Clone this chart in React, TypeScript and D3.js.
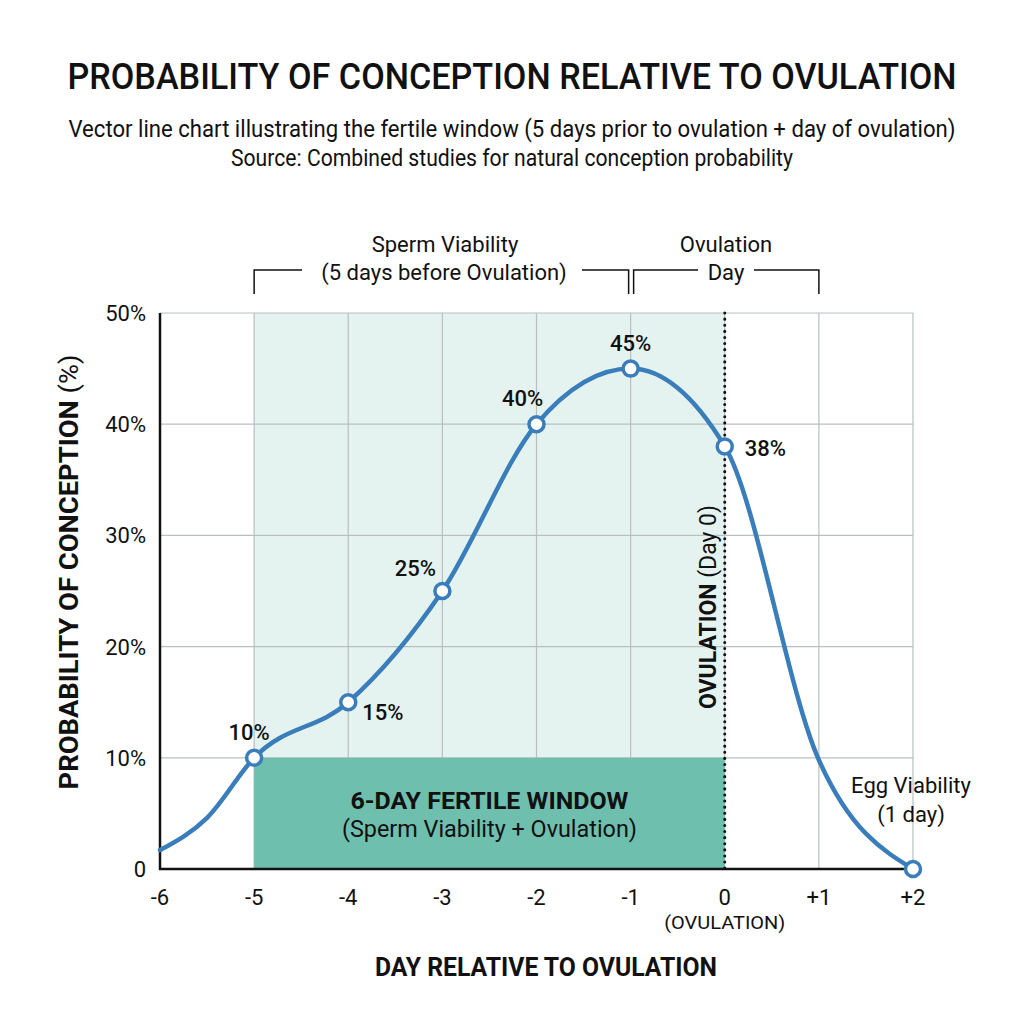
import React from "react";
import * as d3 from "d3";

const curveDays = [-6, -5.5, -5, -4, -3, -2, -1, 0, 1, 2];
const curveValues = [1.7, 4.6, 10, 15, 25, 40, 45, 38, 9.8, 0];
const markerDays = [-5, -4, -3, -2, -1, 0, 2];
const markerValues = [10, 15, 25, 40, 45, 38, 0];
const labelDays = [-5, -4, -3, -2, -1, 0];
const labelTexts = ["10%", "15%", "25%", "40%", "45%", "38%"];
const xTicks = [-6, -5, -4, -3, -2, -1, 0, 1, 2];
const xTickLabels = ["-6", "-5", "-4", "-3", "-2", "-1", "0", "+1", "+2"];
const yTicks = [0, 10, 20, 30, 40, 50];
const yTickLabels = ["0", "10%", "20%", "30%", "40%", "50%"];
const fertileStart = -5;
const fertileEnd = 0;
const fertileLevel = 10;

const W = 1024, H = 1024;
const FONT = "Roboto, 'Noto Sans', sans-serif";

export default function App() {
  const x = d3.scaleLinear().domain([-6, 2]).range([160, 913]);
  const y = d3.scaleLinear().domain([0, 50]).range([869, 313]);
  const pts = curveDays.map((d, i) => [d, curveValues[i]] as [number, number]);
  const line = d3.line<[number, number]>()
    .x(d => x(d[0])).y(d => y(d[1]))
    .curve(d3.curveMonotoneX);
  const blue = "#3a7dbb";
  const labelOffsets: Record<number, [number, number, string]> = {
    [-5]: [-5, -18, "middle"],
    [-4]: [14, 18, "start"],
    [-3]: [-27, -15, "middle"],
    [-2]: [-14, -18, "middle"],
    [-1]: [0, -18, "middle"],
    [0]: [20, 10, "start"],
  };
  const bracketY = 270, bracketBot = 294;
  const cx = (x(fertileStart) + x(fertileEnd)) / 2;
  return (
    <svg width={W} height={H} style={{ position: "absolute", left: 0, top: 0, background: "#fff" }} fontFamily={FONT}>
      <rect x={0} y={0} width={W} height={H} fill="#fff" />
      <text x={512} y={89} textAnchor="middle" fontSize={36} fontWeight={500} fill="#111" textLength={889} lengthAdjust="spacingAndGlyphs">PROBABILITY OF CONCEPTION RELATIVE TO OVULATION</text>
      <text x={512} y={137} textAnchor="middle" fontSize={23} fill="#111" textLength={887} lengthAdjust="spacingAndGlyphs">Vector line chart illustrating the fertile window (5 days prior to ovulation + day of ovulation)</text>
      <text x={512} y={166} textAnchor="middle" fontSize={23} fill="#111" textLength={562} lengthAdjust="spacingAndGlyphs">Source: Combined studies for natural conception probability</text>

      {/* light fertile shading */}
      <rect x={x(fertileStart)} y={y(50)} width={x(fertileEnd) - x(fertileStart)} height={y(0) - y(50)} fill="#e4f3ef" />

      {/* grid */}
      {yTicks.filter(t => t > 0).map(t => (
        <line key={"gy" + t} x1={x(-6)} x2={x(2)} y1={y(t)} y2={y(t)} stroke="#b9bfbf" strokeWidth={1.2} />
      ))}
      {xTicks.filter(t => t > -6).map(t => (
        <line key={"gx" + t} x1={x(t)} x2={x(t)} y1={y(50)} y2={y(0)} stroke="#b9bfbf" strokeWidth={1.2} />
      ))}

      {/* dark fertile window */}
      <rect x={x(fertileStart)} y={y(fertileLevel)} width={x(fertileEnd) - x(fertileStart)} height={y(0) - y(fertileLevel)} fill="#6ebfae" />
      <text x={cx} y={809} textAnchor="middle" fontSize={24} fontWeight={700} fill="#111" textLength={278} lengthAdjust="spacingAndGlyphs">6-DAY FERTILE WINDOW</text>
      <text x={cx} y={837} textAnchor="middle" fontSize={23} fill="#111" textLength={295} lengthAdjust="spacingAndGlyphs">(Sperm Viability + Ovulation)</text>

      {/* ovulation dotted line */}
      <line x1={x(0)} x2={x(0)} y1={y(50)} y2={y(0)} stroke="#111" strokeWidth={3} strokeDasharray="0.1 6" strokeLinecap="round" />
      <text transform={`translate(${x(0) - 9},${607}) rotate(-90)`} textAnchor="middle" fontSize={23} fill="#111">
        <tspan fontWeight={700}>OVULATION</tspan><tspan> (Day 0)</tspan>
      </text>

      {/* axes */}
      <line x1={x(-6)} x2={x(-6)} y1={y(50)} y2={y(0) + 1} stroke="#111" strokeWidth={2.5} />
      <line x1={x(-6) - 1} x2={x(2)} y1={y(0)} y2={y(0)} stroke="#111" strokeWidth={2.5} />

      {/* curve */}
      <path d={line(pts) || ""} fill="none" stroke={blue} strokeWidth={4.5} strokeLinecap="round" />
      {markerDays.map((d, i) => (
        <circle key={"m" + d} cx={x(d)} cy={y(markerValues[i])} r={7.5} fill="#fff" stroke={blue} strokeWidth={3.5} />
      ))}
      {labelDays.map((d, i) => {
        const v = markerValues[markerDays.indexOf(d)];
        const o = labelOffsets[d];
        return (
          <text key={"l" + d} x={x(d) + o[0]} y={y(v) + o[1]} textAnchor={o[2] as any} fontSize={22} fontWeight={500} fill="#111">{labelTexts[i]}</text>
        );
      })}

      {/* egg viability */}
      <text x={911} y={793} textAnchor="middle" fontSize={22} fill="#111">Egg Viability</text>
      <text x={911} y={822} textAnchor="middle" fontSize={22} fill="#111">(1 day)</text>

      {/* ticks */}
      {xTicks.map((t, i) => (
        <text key={"xt" + t} x={x(t)} y={905} textAnchor="middle" fontSize={22} fill="#111">{xTickLabels[i]}</text>
      ))}
      <text x={x(0)} y={929} textAnchor="middle" fontSize={19} fill="#111" textLength={121} lengthAdjust="spacingAndGlyphs">(OVULATION)</text>
      {yTicks.map((t, i) => (
        <text key={"yt" + t} x={146} y={y(t) + 8} textAnchor="end" fontSize={22} fill="#111">{yTickLabels[i]}</text>
      ))}

      {/* axis titles */}
      <text x={546} y={976} textAnchor="middle" fontSize={25} fontWeight={700} fill="#111" textLength={342} lengthAdjust="spacingAndGlyphs">DAY RELATIVE TO OVULATION</text>
      <text transform={`translate(78,${572}) rotate(-90)`} textAnchor="middle" fontSize={26} fontWeight={700} fill="#111" textLength={435} lengthAdjust="spacingAndGlyphs">
        PROBABILITY OF CONCEPTION <tspan fontWeight={400}>(%)</tspan>
      </text>

      {/* brackets */}
      <g stroke="#111" strokeWidth={1.5} fill="none">
        <path d={`M${x(-5)},${bracketBot} V${bracketY} H${302}`} />
        <path d={`M${582},${bracketY} H${x(-1) - 2} V${bracketBot}`} />
        <path d={`M${x(-1) + 3},${bracketBot} V${bracketY} H${698}`} />
        <path d={`M${754},${bracketY} H${x(1)} V${bracketBot}`} />
      </g>
      <text x={445} y={252} textAnchor="middle" fontSize={22} fill="#111">Sperm Viability</text>
      <text x={444} y={280} textAnchor="middle" fontSize={22} fill="#111">(5 days before Ovulation)</text>
      <text x={726} y={252} textAnchor="middle" fontSize={22} fill="#111">Ovulation</text>
      <text x={726} y={280} textAnchor="middle" fontSize={22} fill="#111">Day</text>
    </svg>
  );
}
